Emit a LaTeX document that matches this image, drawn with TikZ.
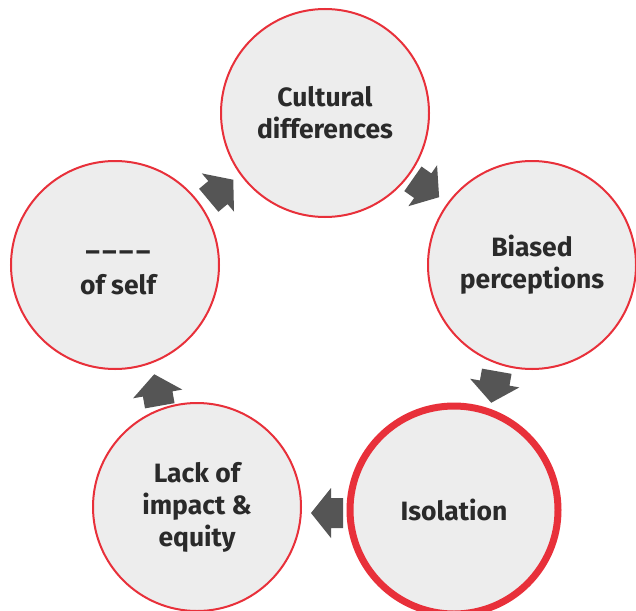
\documentclass[tikz,border=0pt]{standalone}
\usepackage{fontspec}
\setmainfont{Fira Sans}
\begin{document}
\begin{tikzpicture}[x=1pt,y=-1pt,
  circ/.style={circle,draw=cred,fill=cfill,line width=2pt,minimum size=208pt,inner sep=0pt,
    align=center,font=\fontsize{26.5}{32}\selectfont\bfseries,text=ctext},
  thick circ/.style={circ,line width=7pt},
  lbl/.style={align=center,font=\fontsize{26.5}{32}\selectfont\bfseries,text=ctext,inner sep=0pt},
  blockarrow/.style={fill=carrow,draw=none}]
\definecolor{cred}{HTML}{E8303A}
\definecolor{cfill}{HTML}{EDEDED}
\definecolor{carrow}{HTML}{555555}
\definecolor{ctext}{HTML}{2A2A2A}
\useasboundingbox (0,0) rectangle (636,610);
\clip (0,0) rectangle (636,610);
\fill[white] (0,0) rectangle (636,610);
\node[circ] (cult) at (325,113) {Cultural\\differences};
\node[circ] (bias) at (532,265) {Biased\\perceptions};
\node[thick circ] (iso) at (454,510) {Isolation};
\node[circ] (lack) at (197,507) {Lack of\\impact \&\\equity};
\node[circ] (self) at (115,265) {};
\node[lbl] (selfdash) at (118,252) {\_\kern3pt\_\kern3pt\_\kern3pt\_};
\node[lbl] (selftext) at (118,285) {of self};
% block arrows (house shape), centred, pointing +x; rotate is counter-clockwise on screen
\newcommand{\blockarr}[3]{%
  \fill[blockarrow,shift={(#1,#2)},rotate=#3]
    (16,0) -- (-4,-25) -- (-4,-15) -- (-16,-15) -- (-16,15) -- (-4,15) -- (-4,25) -- cycle;}
\blockarr{221}{190}{40}
\blockarr{426}{188}{-35}
\blockarr{494}{387}{-100}
\blockarr{327}{513}{180}
\blockarr{157}{390}{100}
\end{tikzpicture}
\end{document}
